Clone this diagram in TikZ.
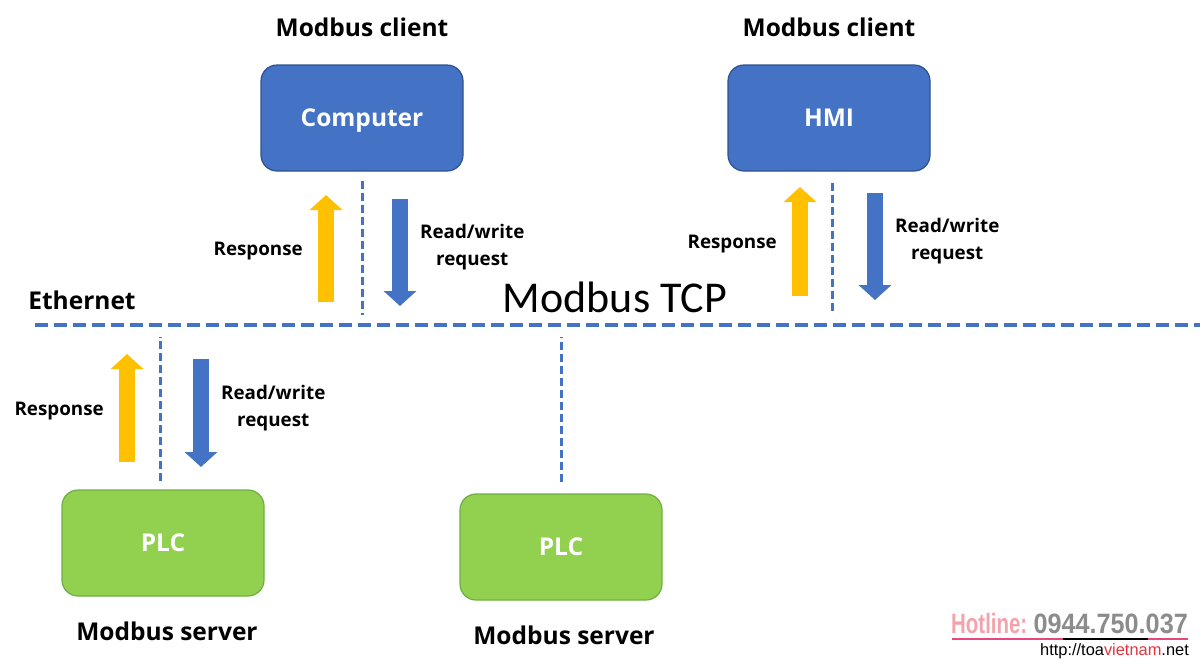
\documentclass[tikz,border=0pt]{standalone}
\usepackage{fontspec}
\setmainfont{Open Sans}
\newfontfamily\tcpfont{Carlito}
\newfontfamily\hotfont{Liberation Sans}
\newfontfamily\hotnarrow[FakeStretch=0.73]{Liberation Sans}
\newfontfamily\hotdigits[FakeStretch=0.9]{Liberation Sans}
\usetikzlibrary{positioning,arrows.meta}

\definecolor{boxblue}{HTML}{4472C4}
\definecolor{boxblueline}{HTML}{2F528F}
\definecolor{plcgreen}{HTML}{92D050}
\definecolor{plcgreenline}{HTML}{6FAE45}
\definecolor{respyellow}{HTML}{FFC000}
\definecolor{hotpink}{HTML}{F3A3AC}
\definecolor{hotgray}{HTML}{8C8C8C}
\definecolor{hotrule}{HTML}{E8467C}
\definecolor{urlred}{HTML}{E3343F}

\tikzset{
	devbox/.style={rounded corners=16pt, minimum width=202pt, minimum height=106pt,
		text height=17.5pt, text depth=0pt,
		line width=1.2pt, text=white, font=\fontsize{24.5}{29}\selectfont\bfseries},
	clientbox/.style={devbox, fill=boxblue, draw=boxblueline},
	serverbox/.style={devbox, fill=plcgreen, draw=plcgreenline},
	role/.style={inner sep=0pt, font=\fontsize{24.5}{29}\selectfont\bfseries},
	arrowlbl/.style={inner sep=0pt, align=center, font=\fontsize{18.8}{27}\selectfont\bfseries},
	ethbus/.style={draw=boxblue, line width=4pt, dash pattern=on 13pt off 6pt},
	droplink/.style={draw=boxblue, line width=3pt, dash pattern=on 8pt off 4pt},
	resparrow/.style={draw=respyellow, line width=16pt, -{Triangle[width=32pt,length=15pt]}},
	reqarrow/.style={draw=boxblue, line width=16pt, -{Triangle[width=32pt,length=15pt]}},
}

\begin{document}
\begin{tikzpicture}[x=1pt, y=-1pt]
	
	\path [use as bounding box, fill=white]   (0,0)   rectangle   (1200,670);
	
	% clients
	\node [clientbox] (comp) at (362,118) {Computer};
	\node [clientbox] (hmi)  at (829,118) {HMI};
	\node [role, above=27pt of comp] (compRole) {Modbus client};
	\node [role, above=27pt of hmi]  (hmiRole)  {Modbus client};
	
	% servers
	\node [serverbox] (plcA) at (163,543) {PLC};
	\node [serverbox] (plcB) at (561,547) {PLC};
	\node [role, below=25pt of plcA, xshift=4pt] (plcARole) {Modbus server};
	\node [role, below=25pt of plcB, xshift=3pt] (plcBRole) {Modbus server};
	
	% ethernet bus
	\coordinate (busL) at (35,325);
	\coordinate (busR) at (1200,325);
	\draw [ethbus] (busL) -- (busR);
	\node [role, anchor=base] (eth) at (82,309) {Ethernet};
	\node [inner sep=0pt, anchor=base, font=\tcpfont\fontsize{44}{50}\selectfont] (tcp) at (615,312) {Modbus TCP};
	
	% drops to the bus
	\draw [droplink] ([yshift=-9pt]comp.south) -- ([yshift=10pt]comp.south |- busL);
	\draw [droplink] ([xshift=3pt,yshift=-11pt]hmi.south) -- ([xshift=3pt,yshift=12pt]hmi.south |- busL);
	\draw [droplink] ([xshift=-3pt,yshift=8pt]plcA.north) -- ([xshift=-3pt,yshift=-12pt]plcA.north |- busL);
	\draw [droplink] ([yshift=11pt]plcB.north) -- ([yshift=-12pt]plcB.north |- busL);
	
	% response / request arrows
	\draw [resparrow] (326,302) -- coordinate (respComp) (326,195);
	\draw [reqarrow]  (400,199) -- coordinate (reqComp)  (400,306);
	\draw [resparrow] (800,296) -- coordinate (respHmi)  (800,187);
	\draw [reqarrow]  (875,193) -- coordinate (reqHmi)   (875,300);
	\draw [resparrow] (127,462) -- coordinate (respPlc)  (127,354);
	\draw [reqarrow]  (201,359) -- coordinate (reqPlc)   (201,467);
	
	\node [arrowlbl, left=23pt of respComp, yshift=-2.5pt] (respCompLbl) {Response};
	\node [arrowlbl, left=23pt of respHmi,  yshift=-2.5pt] (respHmiLbl)  {Response};
	\node [arrowlbl, left=23pt of respPlc,  yshift=-3pt]   (respPlcLbl)  {Response};
	\node [arrowlbl, right=20pt of reqComp, yshift=5pt] (reqCompLbl) {Read/write\\request};
	\node [arrowlbl, right=20pt of reqHmi,  yshift=5pt] (reqHmiLbl)  {Read/write\\request};
	\node [arrowlbl, right=20pt of reqPlc,  yshift=5pt] (reqPlcLbl)  {Read/write\\request};
	
	% hotline
	\node [inner sep=0pt, anchor=base west, text=hotpink, font=\hotnarrow\bfseries\fontsize{28}{30}\selectfont] (hot) at (951,633) {Hotline:};
	\node [inner sep=0pt, anchor=base east, text=hotgray, font=\hotdigits\bfseries\fontsize{28}{30}\selectfont] (hotNum) at (1188,633) {0944.750.037};
	\draw [hotrule, line width=2.2pt] (952,639) -- (1188,639);
	\draw [black, line width=2.2pt]   (1063,639) -- (1148,639);
	\node [inner sep=0pt, anchor=base east, font=\hotfont\fontsize{16.4}{18}\selectfont] (url) at (1189,655)
		{http://toa\textcolor{urlred}{vietnam}.net};
	
\end{tikzpicture}
\end{document}
